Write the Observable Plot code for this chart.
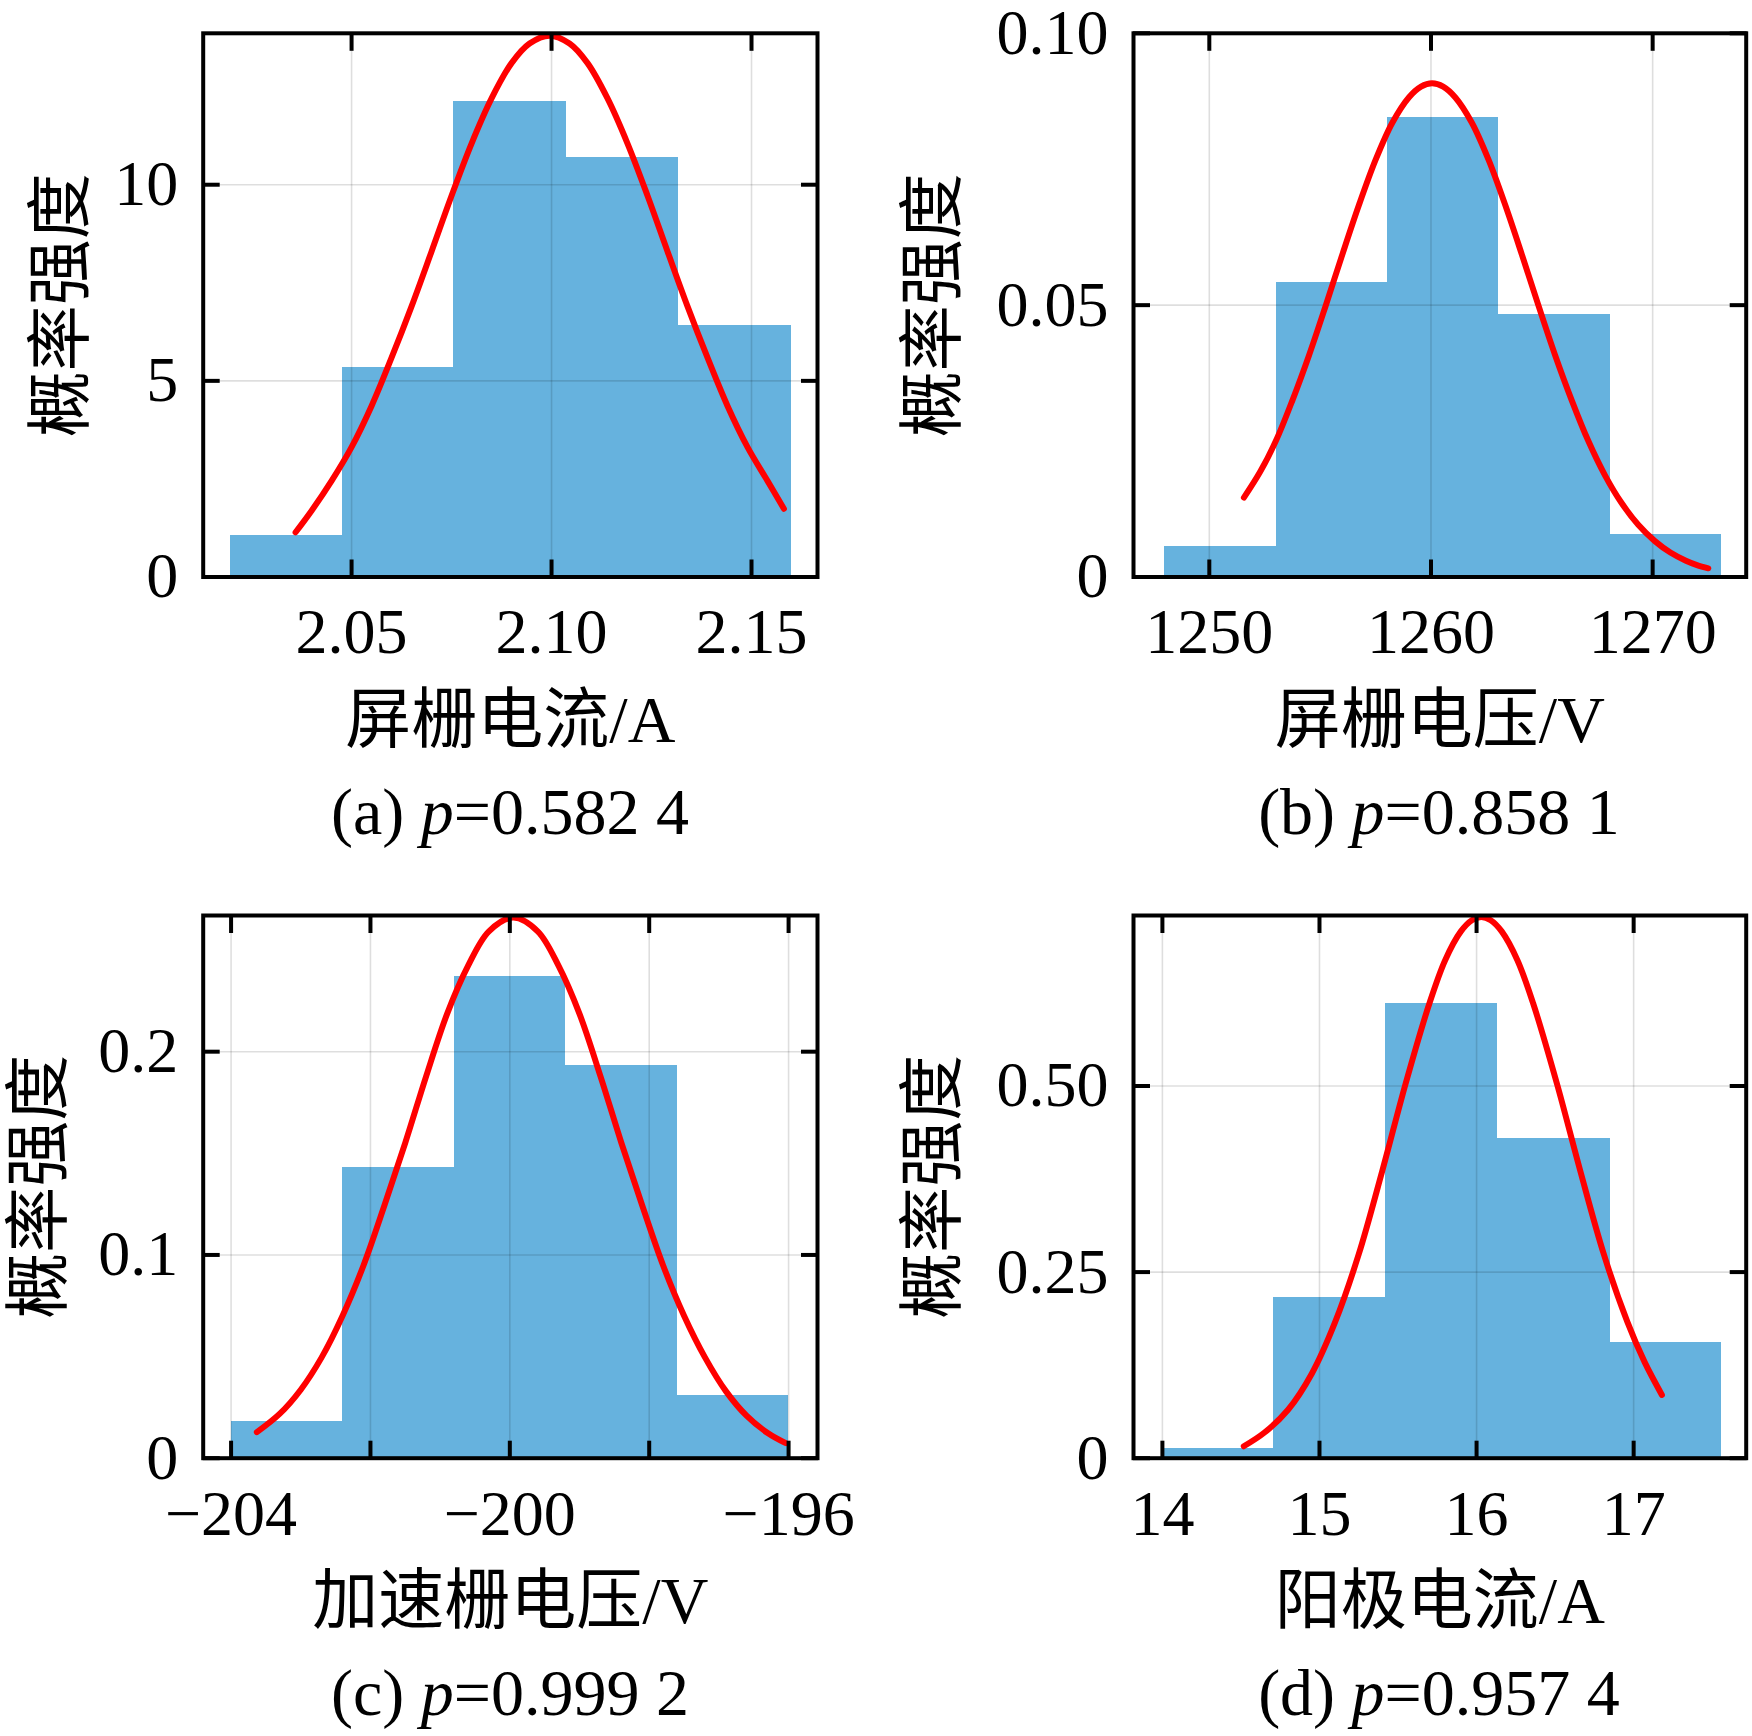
<!DOCTYPE html>
<html><head><meta charset="utf-8">
<script src="https://cdn.jsdelivr.net/npm/d3@7"></script>
<script src="https://cdn.jsdelivr.net/npm/@observablehq/plot@0.6"></script>
<style>
html,body{margin:0;padding:0;background:#fff;}
#fig{position:relative;width:1752px;height:1736px;overflow:hidden;background:#fff;font-family:"Liberation Serif","Times New Roman","Noto Sans CJK SC",serif;}
.panel{position:absolute;}
.cap{position:absolute;width:700px;text-align:center;font-size:66px;line-height:66px;color:#000;white-space:pre;}
</style></head><body><div id="fig"></div>
<script>
const FONT = '"Liberation Serif","Times New Roman","Noto Sans CJK SC",serif';

// ---------- (a) 屏栅电流 ----------
const aEdges   = [2.0197, 2.0478, 2.0755, 2.1037, 2.1318, 2.1600];
const aDensity = [1.06, 5.33, 12.13, 10.70, 6.42];
const aFitX = [2.036, 2.040, 2.045, 2.050, 2.055, 2.060, 2.065, 2.070, 2.075, 2.080, 2.085, 2.090, 2.0945, 2.0995, 2.1045, 2.109, 2.114, 2.119, 2.124, 2.129, 2.134, 2.139, 2.144, 2.149, 2.154, 2.1581];
const aFitY = [1.14, 1.69, 2.45, 3.31, 4.36, 5.59, 6.90, 8.30, 9.72, 11.05, 12.20, 13.10, 13.60, 13.80, 13.60, 13.10, 12.20, 11.05, 9.72, 8.30, 6.90, 5.59, 4.36, 3.31, 2.45, 1.74];
const aXLim = [2.0129, 2.1665];
const aYLim = [0, 13.86];
const aXTicks = [2.05, 2.10, 2.15];
const aXLabelTicks = [2.05, 2.10, 2.15];
const aXTickLabels = ["2.05", "2.10", "2.15"];
const aYTicks = [0, 5, 10];
const aYTickLabels = ["0", "5", "10"];

// ---------- (b) 屏栅电压 ----------
const bEdges   = [1248.0, 1253.02, 1258.04, 1263.06, 1268.08, 1273.1];
const bDensity = [0.0057, 0.0541, 0.0846, 0.0483, 0.0079];
const bFitX = [1251.56, 1252.3, 1253, 1253.75, 1254.5, 1255.25, 1256, 1256.75, 1257.5, 1258.25, 1259, 1259.55, 1260.05, 1260.55, 1261.1, 1261.85, 1262.6, 1263.35, 1264.1, 1264.85, 1265.6, 1266.35, 1267.1, 1267.85, 1268.6, 1269.35, 1270.1, 1270.8, 1271.5, 1272.0, 1272.51];
const bFitY = [0.0146, 0.0194, 0.0250, 0.0325, 0.0408, 0.0499, 0.0593, 0.0684, 0.0767, 0.0835, 0.0882, 0.0902, 0.0908, 0.0902, 0.0882, 0.0835, 0.0767, 0.0684, 0.0593, 0.0499, 0.0408, 0.0325, 0.0250, 0.0187, 0.0136, 0.0096, 0.0066, 0.0045, 0.0030, 0.0022, 0.0016];
const bXLim = [1246.58, 1274.22];
const bYLim = [0, 0.10];
const bXTicks = [1250, 1260, 1270];
const bXLabelTicks = [1250, 1260, 1270];
const bXTickLabels = ["1250", "1260", "1270"];
const bYTicks = [0, 0.05, 0.10];
const bYTickLabels = ["0", "0.05", "0.10"];

// ---------- (c) 加速栅电压 ----------
const cEdges   = [-204.0, -202.4, -200.8, -199.2, -197.6, -196.0];
const cDensity = [0.0183, 0.143, 0.2368, 0.193, 0.0308];
const cFitX = [-203.63, -203.3, -203, -202.7, -202.4, -202.1, -201.8, -201.5, -201.2, -200.9, -200.6, -200.3, -199.95, -199.6, -199.3, -199.0, -198.7, -198.4, -198.1, -197.8, -197.5, -197.2, -196.9, -196.6, -196.3, -196.04];
const cFitY = [0.0128, 0.0219, 0.0337, 0.0496, 0.0701, 0.0948, 0.1243, 0.1552, 0.1880, 0.2186, 0.2422, 0.2592, 0.266, 0.2592, 0.2422, 0.2186, 0.1880, 0.1552, 0.1243, 0.0948, 0.0701, 0.0496, 0.0330, 0.0208, 0.0124, 0.0074];
const cXLim = [-204.4, -195.585];
const cYLim = [0, 0.267];
const cXTicks = [-204, -202, -200, -198, -196];
const cXLabelTicks = [-204, -200, -196];
const cXTickLabels = ["\u2212204", "\u2212200", "\u2212196"];
const cYTicks = [0, 0.1, 0.2];
const cYTickLabels = ["0", "0.1", "0.2"];

// ---------- (d) 阳极电流 ----------
const dEdges   = [14.0, 14.71, 15.42, 16.135, 16.85, 17.56];
const dDensity = [0.0127, 0.216, 0.611, 0.429, 0.156];
const dFitX = [14.518, 14.65, 14.8, 14.95, 15.1, 15.25, 15.4, 15.55, 15.7, 15.8, 15.9, 15.97, 16.03, 16.09, 16.16, 16.26, 16.36, 16.51, 16.66, 16.81, 16.96, 17.07, 17.18];
const dFitY = [0.016, 0.0345, 0.0651, 0.1132, 0.1831, 0.2740, 0.3861, 0.5043, 0.6111, 0.6690, 0.7077, 0.7227, 0.727, 0.7227, 0.7077, 0.6690, 0.6111, 0.5043, 0.3861, 0.2740, 0.1831, 0.1290, 0.085];
const dXLim = [13.816, 17.7165];
const dYLim = [0, 0.729];
const dXTicks = [14, 15, 16, 17];
const dXLabelTicks = [14, 15, 16, 17];
const dXTickLabels = ["14", "15", "16", "17"];
const dYTicks = [0, 0.25, 0.50];
const dYTickLabels = ["0", "0.25", "0.50"];

const yLabel = "概率强度";
const xLabels = ["屏栅电流/A", "屏栅电压/V", "加速栅电压/V", "阳极电流/A"];
const captionTags = ["(a)", "(b)", "(c)", "(d)"];
const captionP = ["0.582 4", "0.858 1", "0.999 2", "0.957 4"];

function lookup(vals, labs) {
  return d => { const i = vals.findIndex(v => Math.abs(v - d) < 1e-9); return i < 0 ? "" : labs[i]; };
}

function drawPanel(p) {
  const bins = p.edges.slice(0, -1).map((x1, i) => ({x1, x2: p.edges[i + 1], y: p.density[i]}));
  const fit = p.fitX.map((x, i) => ({x, y: p.fitY[i]}));
  const tickMark = {tickSize: -17, strokeWidth: 4, fill: null, label: null};
  return Plot.plot({
    width: 876, height: 868,
    marginLeft: p.m[0], marginRight: p.m[1], marginTop: p.m[2], marginBottom: p.m[3],
    x: {domain: p.xLim},
    y: {domain: p.yLim},
    style: {fontFamily: FONT, background: "transparent", overflow: "visible", color: "black"},
    marks: [
      Plot.rect(bins, {x1: "x1", x2: "x2", y1: 0, y2: "y", fill: "#66b2de", shapeRendering: "crispEdges"}),
      Plot.gridX({ticks: p.xTicks, stroke: "#000", strokeOpacity: 0.13, strokeWidth: 1.6}),
      Plot.gridY({ticks: p.yTicks, stroke: "#000", strokeOpacity: 0.13, strokeWidth: 1.6}),
      Plot.line(fit, {x: "x", y: "y", stroke: "#ff0000", strokeWidth: 6, curve: "catmull-rom"}),
      Plot.frame({stroke: "black", strokeWidth: 4}),
      Plot.axisX({anchor: "bottom", ticks: p.xTicks, ...tickMark}),
      Plot.axisX({anchor: "top", ticks: p.xTicks, ...tickMark}),
      Plot.axisY({anchor: "left", ticks: p.yTicks, ...tickMark}),
      Plot.axisY({anchor: "right", ticks: p.yTicks, ...tickMark}),
      Plot.axisX({anchor: "bottom", ticks: p.xLabelTicks, tickSize: 0, tickPadding: 31, tickFormat: lookup(p.xLabelTicks, p.xTickLabels), fontSize: 64, label: null}),
      Plot.axisY({anchor: "left", ticks: p.yTicks, tickSize: 0, tickPadding: 25, tickFormat: lookup(p.yTicks, p.yTickLabels), fontSize: 64, label: null}),
      Plot.text([yLabel], {frameAnchor: "left", dx: -p.yLabOff, rotate: -90, textAnchor: "middle", lineAnchor: "middle", fontSize: 66, text: d => d}),
      Plot.text([p.xLabel], {frameAnchor: "bottom", dy: p.xLabDy, textAnchor: "middle", lineAnchor: "middle", fontSize: 66, text: d => d})
    ]
  });
}

const panels = [
  {edges: aEdges, density: aDensity, fitX: aFitX, fitY: aFitY, xLim: aXLim, yLim: aYLim, xTicks: aXTicks, xLabelTicks: aXLabelTicks, xTickLabels: aXTickLabels, yTicks: aYTicks, yTickLabels: aYTickLabels,
   m: [202.7, 59, 32.8, 291.5], left: 0, top: 0, yLabOff: 141, xLabDy: 143.5, xLabel: xLabels[0], cx: 510, capTop: 778.5},
  {edges: bEdges, density: bDensity, fitX: bFitX, fitY: bFitY, xLim: bXLim, yLim: bYLim, xTicks: bXTicks, xLabelTicks: bXLabelTicks, xTickLabels: bXTickLabels, yTicks: bYTicks, yTickLabels: bYTickLabels,
   m: [257, 6.3, 32.8, 291.5], left: 876, top: 0, yLabOff: 200, xLabDy: 143.5, xLabel: xLabels[1], cx: 1439, capTop: 778.5},
  {edges: cEdges, density: cDensity, fitX: cFitX, fitY: cFitY, xLim: cXLim, yLim: cYLim, xTicks: cXTicks, xLabelTicks: cXLabelTicks, xTickLabels: cXTickLabels, yTicks: cYTicks, yTickLabels: cYTickLabels,
   m: [202.7, 59, 47, 278.3], left: 0, top: 868, yLabOff: 163, xLabDy: 143.5, xLabel: xLabels[2], cx: 510, capTop: 1660},
  {edges: dEdges, density: dDensity, fitX: dFitX, fitY: dFitY, xLim: dXLim, yLim: dYLim, xTicks: dXTicks, xLabelTicks: dXLabelTicks, xTickLabels: dXTickLabels, yTicks: dYTicks, yTickLabels: dYTickLabels,
   m: [257, 6.3, 47, 278.3], left: 876, top: 868, yLabOff: 200, xLabDy: 143.5, xLabel: xLabels[3], cx: 1439, capTop: 1660}
];

const fig = document.getElementById("fig");
panels.forEach((p, i) => {
  const wrap = document.createElement("div");
  wrap.className = "panel";
  wrap.style.left = p.left + "px";
  wrap.style.top = p.top + "px";
  wrap.appendChild(drawPanel(p));
  fig.appendChild(wrap);
  const cap = document.createElement("div");
  cap.className = "cap";
  cap.style.left = (p.cx - 350) + "px";
  cap.style.top = p.capTop + "px";
  cap.innerHTML = captionTags[i] + " <i>p</i>=" + captionP[i];
  fig.appendChild(cap);
});
</script></body></html>
